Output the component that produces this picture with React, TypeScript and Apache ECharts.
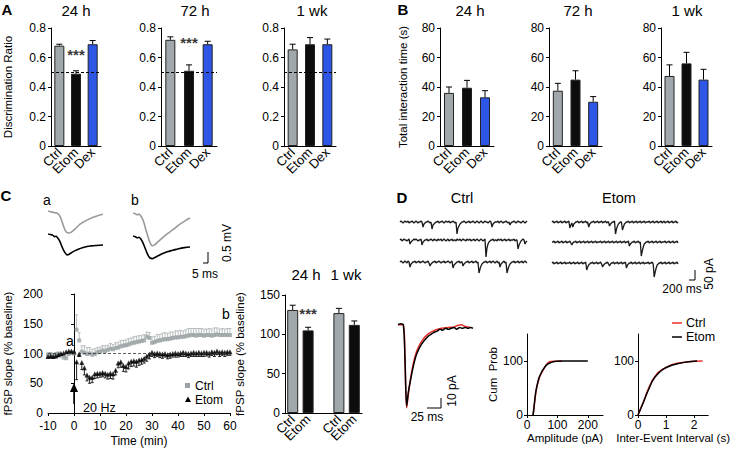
import React, { useEffect, useRef } from "react";
import * as echarts from "echarts";

const FONT = '"Liberation Sans", Arial, Helvetica, sans-serif';
const GREY = "#a1a8ab";
const BLACK = "#0d0d0d";
const BLUE = "#2d55e6";
const RED = "#e8302a";

// ---------- Panel A / B data ----------
const barGroups = ["Ctrl", "Etom", "Dex"];
const timeTitles = ["24 h", "72 h", "1 wk"];
const discMean = [
  [0.68, 0.49, 0.69],
  [0.72, 0.51, 0.69],
  [0.655, 0.69, 0.69],
];
const discSem = [
  [0.01, 0.02, 0.025],
  [0.02, 0.04, 0.02],
  [0.035, 0.045, 0.035],
];
const discStars = [0.62, 0.7, null];
const interMean = [
  [36, 39.5, 33],
  [37.5, 45, 30],
  [47.5, 56, 45],
];
const interSem = [
  [4, 5, 4.5],
  [5, 6, 3.5],
  [7.5, 7.5, 7],
];

// ---------- Panel C traces (ms, mV) ----------
const traceAGrey = [[0, 0], [2, -0.03], [4, -0.05], [6, -0.08], [8, -0.1], [10, -0.2], [12, -0.45], [14, -0.75], [16, -0.95], [18, -1.0], [20, -0.97], [24, -0.8], [28, -0.6], [32, -0.47], [36, -0.36], [40, -0.27], [44, -0.2], [48, -0.15]];
const traceABlack = [[0, 0], [2, -0.02], [4, -0.05], [6, -0.12], [7, -0.1], [8, -0.15], [10, -0.3], [12, -0.55], [14, -0.78], [16, -0.92], [17, -0.95], [19, -0.9], [22, -0.8], [26, -0.7], [30, -0.62], [34, -0.57], [38, -0.54], [42, -0.52], [48, -0.5]];
const traceBGrey = [[0, 0], [2, -0.03], [4, -0.08], [5, -0.05], [7, -0.15], [9, -0.35], [11, -0.7], [13, -1.05], [15, -1.35], [17, -1.49], [19, -1.45], [22, -1.3], [26, -1.12], [30, -0.95], [35, -0.76], [40, -0.55], [45, -0.38], [50, -0.23]];
const traceBBlack = [[0, 0], [2, -0.03], [4, -0.08], [5, -0.06], [7, -0.15], [9, -0.35], [11, -0.6], [13, -0.85], [15, -1.0], [17, -1.03], [19, -0.98], [22, -0.9], [26, -0.8], [30, -0.72], [35, -0.65], [40, -0.58], [45, -0.53], [50, -0.5]];

// ---------- Panel C time course ----------
const ltpTime = [-10, -9, -8, -7, -6, -5, -4, -3, -2, -1, 0, 1, 2, 3, 4, 5, 6, 7, 8, 9, 10, 11, 12, 13, 14, 15, 16, 17, 18, 19, 20, 21, 22, 23, 24, 25, 26, 27, 28, 29, 30, 31, 32, 33, 34, 35, 36, 37, 38, 39, 40, 41, 42, 43, 44, 45, 46, 47, 48, 49, 50, 51, 52, 53, 54, 55, 56, 57, 58, 59, 60];
const ltpCtrl = [98, 99, 97, 99, 100, 97, 93, 92, 99, 101, 100,
  140, 122, 103, 101, 99, 100, 98, 99, 102, 103,
  105, 104, 106, 108, 107, 109, 110, 112, 113, 114,
  115, 117, 118, 119, 120, 121, 122, 128, 126, 118,
  119, 121, 122, 123, 124, 124, 125, 126, 127, 127,
  128, 128, 129, 130, 131, 131, 130, 131, 131, 130,
  131, 131, 130, 131, 132, 131, 131, 131, 131, 131];
const ltpCtrlSem = [3, 2, 3, 2, 2, 3, 3, 2, 2, 3, 2,
  25, 13, 10, 12, 11, 10, 9, 9, 8, 8,
  8, 9, 8, 9, 8, 9, 9, 10, 9, 9,
  10, 9, 10, 10, 10, 9, 10, 8, 9, 10,
  10, 11, 10, 11, 11, 10, 11, 10, 11, 11,
  11, 10, 11, 12, 11, 11, 12, 11, 11, 11,
  10, 11, 11, 12, 11, 10, 11, 10, 11, 11];
const ltpEtom = [95, 96, 95, 96, 98, 100, 101, 103, 104, 104, 103,
  86, 99, 85, 76, 64, 60, 60, 66, 67, 67,
  68, 67, 65, 67, 66, 72, 84, 86, 80, 78,
  84, 87, 88, 87, 89, 90, 92, 96, 99, 102,
  100, 101, 100, 99, 100, 98, 99, 100, 101, 100,
  101, 102, 101, 100, 101, 102, 101, 102, 101, 102,
  102, 101, 103, 102, 104, 102, 103, 102, 103, 103];
const ltpEtomSem = [2, 3, 2, 2, 3, 2, 2, 3, 2, 2, 3,
  30, 4, 12, 12, 10, 10, 9, 8, 8, 7,
  7, 8, 8, 9, 9, 8, 8, 9, 10, 9,
  10, 9, 9, 10, 9, 8, 8, 9, 8, 7,
  7, 6, 7, 7, 6, 7, 7, 6, 7, 6,
  6, 7, 6, 7, 6, 7, 6, 7, 6, 7,
  6, 7, 6, 7, 6, 7, 6, 7, 6, 6];

// ---------- Panel C bar ----------
const fpspGroups = ["Ctrl", "Etom", "Ctrl", "Etom"];
const fpspTitles = ["24 h", "1 wk"];
const fpspMean = [131, 105, 127, 112];
const fpspSem = [6, 4, 6, 5];
const fpspStar = 126;

// ---------- Panel D sweeps (downward deflection, base-36 digits; 3 = baseline) ----------
const sweepCtrl = [
  "3234323324332343" + "2343323854332343" + "a654332433234323" + "324332343f975433" + "2343324332343234" + "3234323343238543" + "3324323433234364" + "3323432334323432",
  "3243233432754323" + "2343328543324332" + "3423342332432343" + "2433243342332432" + "3342332433243234" + "323432kb75433243" + "3423324332433243" + "332433c864323754",
  "3234323423854332" + "4332433234332475" + "4332433234332433" + "2343296543324337" + "543324332433243e" + "a754332433243234" + "32438543243ea754" + "3324332433243234",
];
const sweepEtom = [
  "3243324332433243" + "3296485433243324" + "3324385433243324" + "3324332433754332" + "fa75433b85433243" + "3243324332433243" + "3324332433243324" + "3243324332433243",
  "3324332433243324" + "3324643324332433" + "2433243324332433" + "3243324332433243" + "3243324332433275" + "4332433243hc8543" + "3243324332433243" + "3324332433243324",
  "3243324332433243" + "3324332433243324" + "332a754332433243" + "3247543324643324" + "3324332433285433" + "2433243324332433" + "3243324hc8543324" + "3324332433243324",
];
const sweepPA = (s: string) => s.split("").map((c) => -(parseInt(c, 36) - 3) * 5);

// ---------- Panel D averaged mEPSC (ms, pA) ----------
const avgCtrl = [[0, 0], [9.5, 0], [12.5, -40], [15.4, -90], [18.4, -76], [21.4, -62], [27.3, -42], [33.2, -29], [42.1, -18], [54, -10], [65.9, -6], [77.8, -4], [89.6, -3], [100, -2.5], [106, -1], [113, 0], [120, -2], [130, -3]];
const avgEtom = [[0, 0], [5, 1], [9.5, 0], [12.5, -37], [15.4, -88], [18.4, -73], [21.4, -63], [27.3, -45], [33.2, -32], [42.1, -21], [54, -12.5], [60, -10], [65.9, -8], [70, -7], [75, -5], [80, -6], [85, -4], [90, -5], [95, -4], [100, -3], [105, -5], [110, -3], [115, -4], [120, -3], [125, -4], [130, -3], [134, -4]];

// ---------- Panel D cumulative ----------
const ampEtom = [[20, 0], [22, 10], [25, 25], [28, 40], [32, 52], [36, 62], [40, 70], [45, 76], [50, 82], [55, 86], [60, 90], [65, 93], [70, 95], [80, 97.5], [90, 99], [100, 99.5], [120, 100], [200, 100]];
const ampCtrl = [[20, 0], [23, 12], [26, 28], [30, 45], [35, 58], [40, 68], [45, 75], [50, 80], [55, 85], [60, 90], [65, 94], [70, 97], [75, 99], [80, 99], [90, 99.5], [110, 100], [115, 100]];
const ieiEtom = [[0, 0], [0.1, 12], [0.2, 25], [0.3, 38], [0.4, 50], [0.5, 62], [0.6, 70], [0.7, 76], [0.8, 81], [0.9, 85], [1.0, 88], [1.2, 92], [1.4, 95], [1.6, 97], [1.8, 98.5], [2.0, 99.5], [2.1, 100]];
const ieiCtrl = [[0, 0], [0.1, 13], [0.2, 24], [0.3, 40], [0.4, 52], [0.5, 63], [0.6, 71], [0.7, 78], [0.8, 82], [1.0, 88], [1.2, 93], [1.4, 96], [1.7, 98], [2.0, 99.5], [2.3, 100]];

// ---------- helpers ----------
function errRender(dir: number, cap: number, color: string, lw = 1) {
  return (_p: any, api: any) => {
    const x = api.value(0);
    const m = api.value(1);
    const e = api.value(2);
    const a = api.coord([x, m]);
    const b = api.coord([x, m + dir * e]);
    return {
      type: "group",
      children: [
        { type: "line", shape: { x1: a[0], y1: a[1], x2: b[0], y2: b[1] }, style: { stroke: color, lineWidth: lw } },
        { type: "line", shape: { x1: b[0] - cap / 2, y1: b[1], x2: b[0] + cap / 2, y2: b[1] }, style: { stroke: color, lineWidth: lw } },
      ],
    };
  };
}

const axisLine = { show: true, lineStyle: { color: "#000", width: 1 } };
const tickOut = { show: true, length: 3, inside: false, lineStyle: { color: "#000", width: 1 } };

function txt(x: number, y: number, text: string, o: any = {}) {
  const align = o.align || "center";
  return {
    type: "text",
    x,
    y,
    rotation: o.rot || 0,
    silent: true,
    z: 100,
    style: {
      text,
      fontSize: o.fs || 12,
      fontFamily: FONT,
      fontWeight: o.fw || "normal",
      fill: o.color || "#000",
      align,
      verticalAlign: "middle",
      textAlign: align,
      textVerticalAlign: "middle",
    },
  };
}
function pl(points: number[][], color = "#000", lw = 1) {
  return { type: "polyline", silent: true, z: 100, shape: { points }, style: { stroke: color, lineWidth: lw, fill: null } };
}

function buildOption() {
  const grid: any[] = [];
  const xAxis: any[] = [];
  const yAxis: any[] = [];
  const series: any[] = [];
  const add = (g: any, x: any, y: any) => {
    const i = grid.length;
    grid.push({ ...g });
    xAxis.push({ ...x, gridIndex: i });
    yAxis.push({ ...y, gridIndex: i });
    return i;
  };
  const hid = (min: number, max: number) => ({ type: "value", show: false, min, max });
  const catX = (data: string[]) => ({
    type: "category",
    data,
    axisLine,
    axisTick: { show: false },
    axisLabel: { rotate: 45, interval: 0, fontSize: 13, margin: 4, color: "#000", fontFamily: FONT },
  });
  const valY = (min: number, max: number, interval: number, name: string, nameGap: number, fs = 12, nfs = 11.5) => ({
    type: "value",
    min,
    max,
    interval,
    axisLine,
    axisTick: tickOut,
    splitLine: { show: false },
    axisLabel: { fontSize: fs, margin: 5, color: "#000", fontFamily: FONT },
    name,
    nameLocation: "middle",
    nameGap,
    nameTextStyle: { fontSize: nfs, color: "#000", fontFamily: FONT },
  });
  const barCols = [GREY, BLACK, BLUE];
  const starSeries = (i: number, x: number, y: number) => ({
    type: "scatter",
    xAxisIndex: i,
    yAxisIndex: i,
    symbolSize: 1,
    itemStyle: { color: "rgba(0,0,0,0)" },
    silent: true,
    label: { show: true, position: "inside", formatter: "***", fontSize: 15, fontWeight: "bold", color: "#000", fontFamily: FONT },
    data: [[x, y]],
    z: 5,
  });
  const barPanel = (left: number, width: number, means: number[], sems: number[], yMax: number, yInt: number, name: string, nameGap: number, dashed: number | null, star: number | null) => {
    const i = add({ left, top: 28, width, height: 118 }, catX(barGroups), valY(0, yMax, yInt, name, nameGap));
    series.push({
      type: "bar",
      xAxisIndex: i,
      yAxisIndex: i,
      barWidth: 10,
      data: means.map((v, j) => ({ value: v, itemStyle: { color: barCols[j] } })),
      itemStyle: { borderColor: "#222", borderWidth: 1 },
      markLine:
        dashed == null
          ? undefined
          : { silent: true, symbol: ["none", "none"], label: { show: false }, lineStyle: { type: [3, 2], color: "#000", width: 1 }, data: [{ yAxis: dashed }] },
      z: 3,
    });
    series.push({
      type: "custom",
      xAxisIndex: i,
      yAxisIndex: i,
      renderItem: errRender(1, 6, "#000"),
      encode: { x: 0, y: 1 },
      data: means.map((m, j) => [j, m, sems[j]]),
      z: 2,
    });
    if (star != null) series.push(starSeries(i, 1, star));
  };

  // Panel A
  const aL = [51, 161, 284];
  const aW = [50, 56, 52];
  for (let k = 0; k < 3; k++) {
    barPanel(aL[k], aW[k], discMean[k], discSem[k], 0.8, 0.2, k === 0 ? "Discrimination Ratio" : "", 37.5, 0.5, discStars[k]);
  }
  // Panel B
  const bL = [440, 549, 661];
  const bW = [54, 53, 51];
  for (let k = 0; k < 3; k++) {
    barPanel(bL[k], bW[k], interMean[k], interSem[k], 80, 20, k === 0 ? "Total interaction time (s)" : "", 31.5, null, null);
  }

  // Panel C traces
  const traceGrid = (left: number, top: number, width: number, xmax: number, data: number[][], color: string) => {
    const i = add({ left, top, width, height: 44 }, hid(0, xmax), hid(-2, 0));
    series.push({ type: "line", xAxisIndex: i, yAxisIndex: i, data, showSymbol: false, smooth: true, lineStyle: { color, width: 1.6 }, silent: true });
  };
  traceGrid(48, 211, 55, 48, traceAGrey, "#9a9a9a");
  traceGrid(48, 234, 55, 48, traceABlack, "#000");
  traceGrid(133, 213, 57, 50, traceBGrey, "#9a9a9a");
  traceGrid(133, 236, 57, 50, traceBBlack, "#000");

  // Panel C time course
  const tc = add(
    { left: 48, top: 294, width: 182, height: 119 },
    {
      type: "value",
      min: -10,
      max: 60,
      interval: 10,
      axisLine,
      axisTick: tickOut,
      splitLine: { show: false },
      axisLabel: { fontSize: 12, margin: 7, color: "#000", fontFamily: FONT },
      name: "Time (min)",
      nameLocation: "middle",
      nameGap: 22,
      nameTextStyle: { fontSize: 12, color: "#000", fontFamily: FONT },
    },
    valY(0, 200, 50, "fPSP slope (% baseline)", 34, 12, 11.5)
  );
  series.push({
    type: "custom",
    xAxisIndex: tc,
    yAxisIndex: tc,
    renderItem: errRender(1, 3, "#b8bdbf"),
    encode: { x: 0, y: 1 },
    data: ltpTime.map((t, j) => [t, ltpCtrl[j], ltpCtrlSem[j]]),
    z: 1,
  });
  series.push({
    type: "custom",
    xAxisIndex: tc,
    yAxisIndex: tc,
    renderItem: errRender(-1, 3, "#222"),
    encode: { x: 0, y: 1 },
    data: ltpTime.map((t, j) => [t, ltpEtom[j], ltpEtomSem[j]]),
    z: 2,
  });
  series.push({
    type: "scatter",
    xAxisIndex: tc,
    yAxisIndex: tc,
    symbol: "rect",
    symbolSize: 4,
    itemStyle: { color: "#9aa1a4" },
    data: ltpTime.map((t, j) => [t, ltpCtrl[j]]),
    markLine: { silent: true, symbol: ["none", "none"], label: { show: false }, lineStyle: { type: [3, 2], color: "#333", width: 0.8 }, data: [{ yAxis: 100 }] },
    z: 3,
  });
  series.push({
    type: "scatter",
    xAxisIndex: tc,
    yAxisIndex: tc,
    symbol: "triangle",
    symbolSize: 5,
    itemStyle: { color: "#000" },
    data: ltpTime.map((t, j) => [t, ltpEtom[j]]),
    z: 4,
  });

  // Panel C bars (category slots with an empty gap between the two time points)
  const fpspSlots = [0, 1, 3, 4];
  const fpspCats = ["", "", "", "", ""];
  fpspSlots.forEach((s, j) => (fpspCats[s] = fpspGroups[j]));
  const fpspBarData: any[] = fpspCats.map(() => "-");
  fpspSlots.forEach((s, j) => (fpspBarData[s] = { value: fpspMean[j], itemStyle: { color: j % 2 === 0 ? GREY : BLACK } }));
  const cb = add({ left: 285, top: 295, width: 77, height: 118 }, catX(fpspCats), valY(0, 150, 50, "fPSP slope (% baseline)", 39, 12, 11.5));
  series.push({
    type: "bar",
    xAxisIndex: cb,
    yAxisIndex: cb,
    barWidth: 11,
    data: fpspBarData,
    itemStyle: { borderColor: "#222", borderWidth: 1 },
    z: 3,
  });
  series.push({
    type: "custom",
    xAxisIndex: cb,
    yAxisIndex: cb,
    renderItem: errRender(1, 6, "#000"),
    encode: { x: 0, y: 1 },
    data: fpspMean.map((m, j) => [fpspSlots[j], m, fpspSem[j]]),
    z: 2,
  });
  series.push(starSeries(cb, fpspSlots[1], fpspStar));

  // Panel D sweeps
  const ctrlBase = [222, 240, 262];
  const etomBase = [222, 242, 263];
  const sweepGrid = (left: number, base: number, width: number, s: string) => {
    const vals = sweepPA(s);
    const i = add({ left, top: base - 3, width, height: 21 }, hid(0, vals.length - 1), hid(-90, 15));
    series.push({ type: "line", xAxisIndex: i, yAxisIndex: i, data: vals.map((v, j) => [j, v]), showSymbol: false, lineStyle: { color: "#1a1a1a", width: 1.3 }, silent: true });
  };
  for (let k = 0; k < 3; k++) sweepGrid(400, ctrlBase[k], 127, sweepCtrl[k]);
  for (let k = 0; k < 3; k++) sweepGrid(552, etomBase[k], 126, sweepEtom[k]);

  // Panel D averaged event
  const av = add({ left: 398, top: 320, width: 75, height: 88 }, hid(0, 134), hid(-90, 5));
  series.push({ type: "line", xAxisIndex: av, yAxisIndex: av, data: avgCtrl, showSymbol: false, smooth: 0.3, lineStyle: { color: RED, width: 1.5 }, silent: true });
  series.push({ type: "line", xAxisIndex: av, yAxisIndex: av, data: avgEtom, showSymbol: false, smooth: 0.3, lineStyle: { color: "#000", width: 1.5 }, silent: true });

  // Panel D cumulative
  const cumPanel = (left: number, width: number, xmax: number, xint: number, xname: string, yname: string, ctrl: number[][], etom: number[][]) => {
    const i = add(
      { left, top: 334, width, height: 81 },
      {
        type: "value",
        min: 0,
        max: xmax,
        interval: xint,
        axisLine,
        axisTick: tickOut,
        splitLine: { show: false },
        axisLabel: { fontSize: 12, margin: 4, color: "#000", fontFamily: FONT, showMaxLabel: false },
        name: xname,
        nameLocation: "middle",
        nameGap: 16,
        nameTextStyle: { fontSize: 11.5, color: "#000", fontFamily: FONT },
      },
      {
        type: "value",
        min: 0,
        max: 150,
        interval: 100,
        axisLine,
        axisTick: tickOut,
        splitLine: { show: false },
        axisLabel: { fontSize: 12, margin: 4, color: "#000", fontFamily: FONT, showMaxLabel: false },
        name: yname,
        nameLocation: "middle",
        nameGap: 27,
        nameTextStyle: { fontSize: 11.5, color: "#000", fontFamily: FONT },
      }
    );
    series.push({ type: "line", xAxisIndex: i, yAxisIndex: i, data: ctrl, showSymbol: false, lineStyle: { color: RED, width: 1.5 }, silent: true });
    series.push({ type: "line", xAxisIndex: i, yAxisIndex: i, data: etom, showSymbol: false, lineStyle: { color: "#000", width: 1.5 }, silent: true });
  };
  cumPanel(527, 76, 250, 100, "Amplitude (pA)", "Cum  Prob", ampCtrl, ampEtom);
  cumPanel(638, 77, 2.5, 1, "Inter-Event Interval (s)", "", ieiCtrl, ieiEtom);

  // Graphic annotations
  const g: any[] = [];
  g.push(txt(7, 9, "A", { fs: 15, fw: "bold" }));
  g.push(txt(403, 9, "B", { fs: 15, fw: "bold" }));
  g.push(txt(6, 195, "C", { fs: 15, fw: "bold" }));
  g.push(txt(402, 197, "D", { fs: 15, fw: "bold" }));
  const aT = [76, 195, 312];
  const bT = [470, 578, 687];
  for (let k = 0; k < 3; k++) {
    g.push(txt(aT[k], 10, timeTitles[k], { fs: 15 }));
    g.push(txt(bT[k], 10, timeTitles[k], { fs: 15 }));
  }
  g.push(txt(306, 274, fpspTitles[0], { fs: 15 }));
  g.push(txt(346, 274, fpspTitles[1], { fs: 15 }));
  g.push(txt(462, 198, "Ctrl", { fs: 14.5 }));
  g.push(txt(619, 198, "Etom", { fs: 14.5 }));
  // C trace labels + scale bar
  g.push(txt(47, 200, "a", { fs: 14 }));
  g.push(txt(135, 200, "b", { fs: 14 }));
  g.push(pl([[203, 263], [208, 263], [208, 252]]));
  g.push(txt(205, 274, "5 ms", { fs: 12 }));
  g.push(txt(227, 243, "0.5 mV", { fs: 12, rot: Math.PI / 2 }));
  // C time course annotations
  g.push(txt(70, 341, "a", { fs: 14 }));
  g.push(txt(226, 314, "b", { fs: 14 }));
  g.push(pl([[74, 391], [74, 404]], "#000", 1.5));
  g.push({ type: "polygon", silent: true, z: 100, shape: { points: [[70, 392], [78, 392], [74, 383]] }, style: { fill: "#000" } });
  g.push(txt(83, 408, "20 Hz", { fs: 12.5, align: "left" }));
  g.push({ type: "rect", silent: true, z: 100, shape: { x: 185, y: 383, width: 5, height: 5 }, style: { fill: "#9aa1a4" } });
  g.push({ type: "polygon", silent: true, z: 100, shape: { points: [[185, 402], [191, 402], [188, 396.5]] }, style: { fill: "#000" } });
  g.push(txt(195, 385.5, "Ctrl", { fs: 12, align: "left" }));
  g.push(txt(195, 399.5, "Etom", { fs: 12, align: "left" }));
  // D scale bars
  g.push(pl([[689, 280], [695, 280], [695, 270]]));
  g.push(txt(682, 289, "200 ms", { fs: 12 }));
  g.push(txt(709, 274, "50 pA", { fs: 12, rot: Math.PI / 2 }));
  g.push(pl([[427, 408], [441, 408], [441, 398]]));
  g.push(txt(427, 417, "25 ms", { fs: 12 }));
  g.push(txt(452, 391, "10 pA", { fs: 12, rot: Math.PI / 2 }));
  // D legend
  g.push(pl([[672, 323], [682, 323]], RED, 1.5));
  g.push(pl([[672, 337], [682, 337]], "#000", 1.5));
  g.push(txt(686, 323, "Ctrl", { fs: 12.5, align: "left" }));
  g.push(txt(686, 337, "Etom", { fs: 12.5, align: "left" }));

  return {
    animation: false,
    backgroundColor: "#fff",
    textStyle: { fontFamily: FONT },
    grid,
    xAxis,
    yAxis,
    series,
    graphic: g,
  };
}

export default function App() {
  const ref = useRef<HTMLDivElement>(null);
  useEffect(() => {
    const chart = echarts.init(ref.current as HTMLDivElement, null, { renderer: "svg" });
    chart.setOption(buildOption() as any);
    return () => chart.dispose();
  }, []);
  return <div ref={ref} style={{ position: "fixed", left: 0, top: 0, width: 732, height: 453, background: "#fff" }} />;
}
